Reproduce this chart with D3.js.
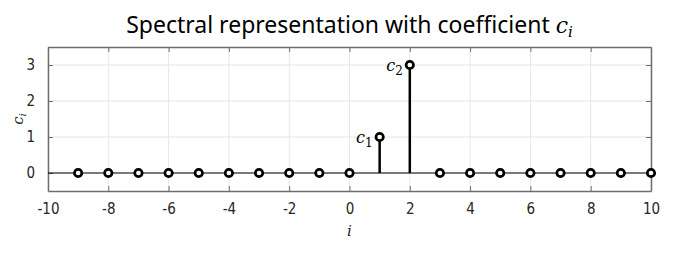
<!DOCTYPE html>
<html lang="en">
<head>
    <meta charset="UTF-8">
    <title>Spectral representation with coefficient c_i</title>
    <script src="https://d3js.org/d3.v7.min.js"></script>
    <style>
        body { margin: 0; background: #fff; }
        svg { display: block; background-color: #fff; }
        .tick text { font-family: "DejaVu Sans Condensed", "Liberation Sans Narrow", "Liberation Sans", Arial, sans-serif; font-stretch: condensed; font-size: 15px; fill: #262626; }
        .math { font-family: "DejaVu Serif", "Liberation Serif", serif; font-style: italic; }
    </style>
</head>
<body>

    <svg width="681" height="255"></svg>

    <script>
        // stem data: index i and coefficient c_i
        const indices = [-9, -8, -7, -6, -5, -4, -3, -2, -1, 0, 1, 2, 3, 4, 5, 6, 7, 8, 9, 10];
        const coeffs  = [0, 0, 0, 0, 0, 0, 0, 0, 0, 0, 1, 3, 0, 0, 0, 0, 0, 0, 0, 0];
        const xTicks = [-10, -8, -6, -4, -2, 0, 2, 4, 6, 8, 10];
        const yTicks = [0, 1, 2, 3];
        // labels drawn next to the non-zero stems
        const labelled = [{ i: 1, sub: "1" }, { i: 2, sub: "2" }];

        const width = 681, height = 255;
        const margin = { top: 47, right: 30, bottom: 64, left: 48 };

        const svg = d3.select("svg");

        const x = d3.scaleLinear()
            .domain([-10, 10])
            .range([margin.left, width - margin.right]);

        const y = d3.scaleLinear()
            .domain([-0.5, 3.5])
            .range([height - margin.bottom, margin.top]);

        const data = indices.map((d, k) => ({ i: d, c: coeffs[k] }));

        // grid lines
        svg.append("g")
            .selectAll("line")
            .data(xTicks)
            .join("line")
            .attr("x1", d => x(d)).attr("x2", d => x(d))
            .attr("y1", y(3.5)).attr("y2", y(-0.5))
            .attr("stroke", "#e6e6e6");

        svg.append("g")
            .selectAll("line")
            .data(yTicks)
            .join("line")
            .attr("x1", x(-10)).attr("x2", x(10))
            .attr("y1", d => y(d)).attr("y2", d => y(d))
            .attr("stroke", "#e6e6e6");

        // axes (ticks inward, like matlab), plain hyphen for negatives
        const fmt = d => String(d);
        const axisColor = "#6e6e6e";
        const xAxis = svg.append("g")
            .attr("transform", `translate(0,${y(-0.5)})`)
            .call(d3.axisBottom(x).tickValues(xTicks).tickFormat(fmt).tickSize(-5).tickPadding(12).tickSizeOuter(0));
        const xTop = svg.append("g")
            .attr("transform", `translate(0,${y(3.5)})`)
            .call(d3.axisTop(x).tickValues(xTicks).tickSize(-5).tickSizeOuter(0).tickFormat(""));
        const yAxis = svg.append("g")
            .attr("transform", `translate(${x(-10)},0)`)
            .call(d3.axisLeft(y).tickValues(yTicks).tickFormat(fmt).tickSize(-5).tickPadding(13).tickSizeOuter(0));
        const yRight = svg.append("g")
            .attr("transform", `translate(${x(10)},0)`)
            .call(d3.axisRight(y).tickValues(yTicks).tickSize(-5).tickSizeOuter(0).tickFormat(""));

        [xAxis, xTop, yAxis, yRight].forEach(a => {
            a.selectAll("path, line").attr("stroke", axisColor);
            a.select(".domain").attr("stroke-width", 1.5);
        });

        // baseline
        svg.append("line")
            .attr("x1", x(-10)).attr("x2", x(10))
            .attr("y1", y(0)).attr("y2", y(0))
            .attr("stroke", "#000")
            .attr("stroke-width", 1.2);

        // stems
        svg.append("g")
            .selectAll("line")
            .data(data.filter(d => d.c !== 0))
            .join("line")
            .attr("x1", d => x(d.i)).attr("x2", d => x(d.i))
            .attr("y1", y(0)).attr("y2", d => y(d.c))
            .attr("stroke", "#000")
            .attr("stroke-width", 2.5);

        // markers
        svg.append("g")
            .selectAll("circle")
            .data(data)
            .join("circle")
            .attr("cx", d => x(d.i))
            .attr("cy", d => y(d.c))
            .attr("r", 3.7)
            .attr("fill", "#fff")
            .attr("stroke", "#000")
            .attr("stroke-width", 2.7);

        // c_1, c_2 labels
        const lab = svg.append("g")
            .selectAll("text")
            .data(labelled)
            .join("text")
            .attr("class", "math")
            .attr("x", d => x(d.i) - 7)
            .attr("y", d => y(coeffs[indices.indexOf(d.i)]) + 6)
            .attr("text-anchor", "end")
            .attr("font-size", 16)
            .attr("fill", "#000");
        lab.append("tspan").text("c");
        lab.append("tspan").attr("font-style", "normal").attr("font-size", 12).attr("dy", 4).text(d => d.sub);

        // title
        const title = svg.append("text")
            .attr("x", (x(-10) + x(10)) / 2)
            .attr("y", 33)
            .attr("text-anchor", "middle")
            .attr("font-family", "'Noto Sans', sans-serif")
            .attr("font-size", 23)
            .attr("fill", "#000")
            .text("Spectral representation with coefficient ");
        title.append("tspan").attr("class", "math").attr("font-size", 22).text("c");
        title.append("tspan").attr("class", "math").attr("font-size", 15).attr("dy", 4).text("i");

        // axis labels
        svg.append("text")
            .attr("class", "math")
            .attr("x", x(0))
            .attr("y", 236)
            .attr("text-anchor", "middle")
            .attr("font-size", 15)
            .attr("fill", "#262626")
            .text("i");

        const yl = svg.append("text")
            .attr("class", "math")
            .attr("transform", `translate(23,${y(1.5)}) rotate(-90)`)
            .attr("text-anchor", "middle")
            .attr("font-size", 15)
            .attr("fill", "#262626");
        yl.append("tspan").text("c");
        yl.append("tspan").attr("font-size", 10).attr("dy", 3).text("i");
    </script>

</body>
</html>
